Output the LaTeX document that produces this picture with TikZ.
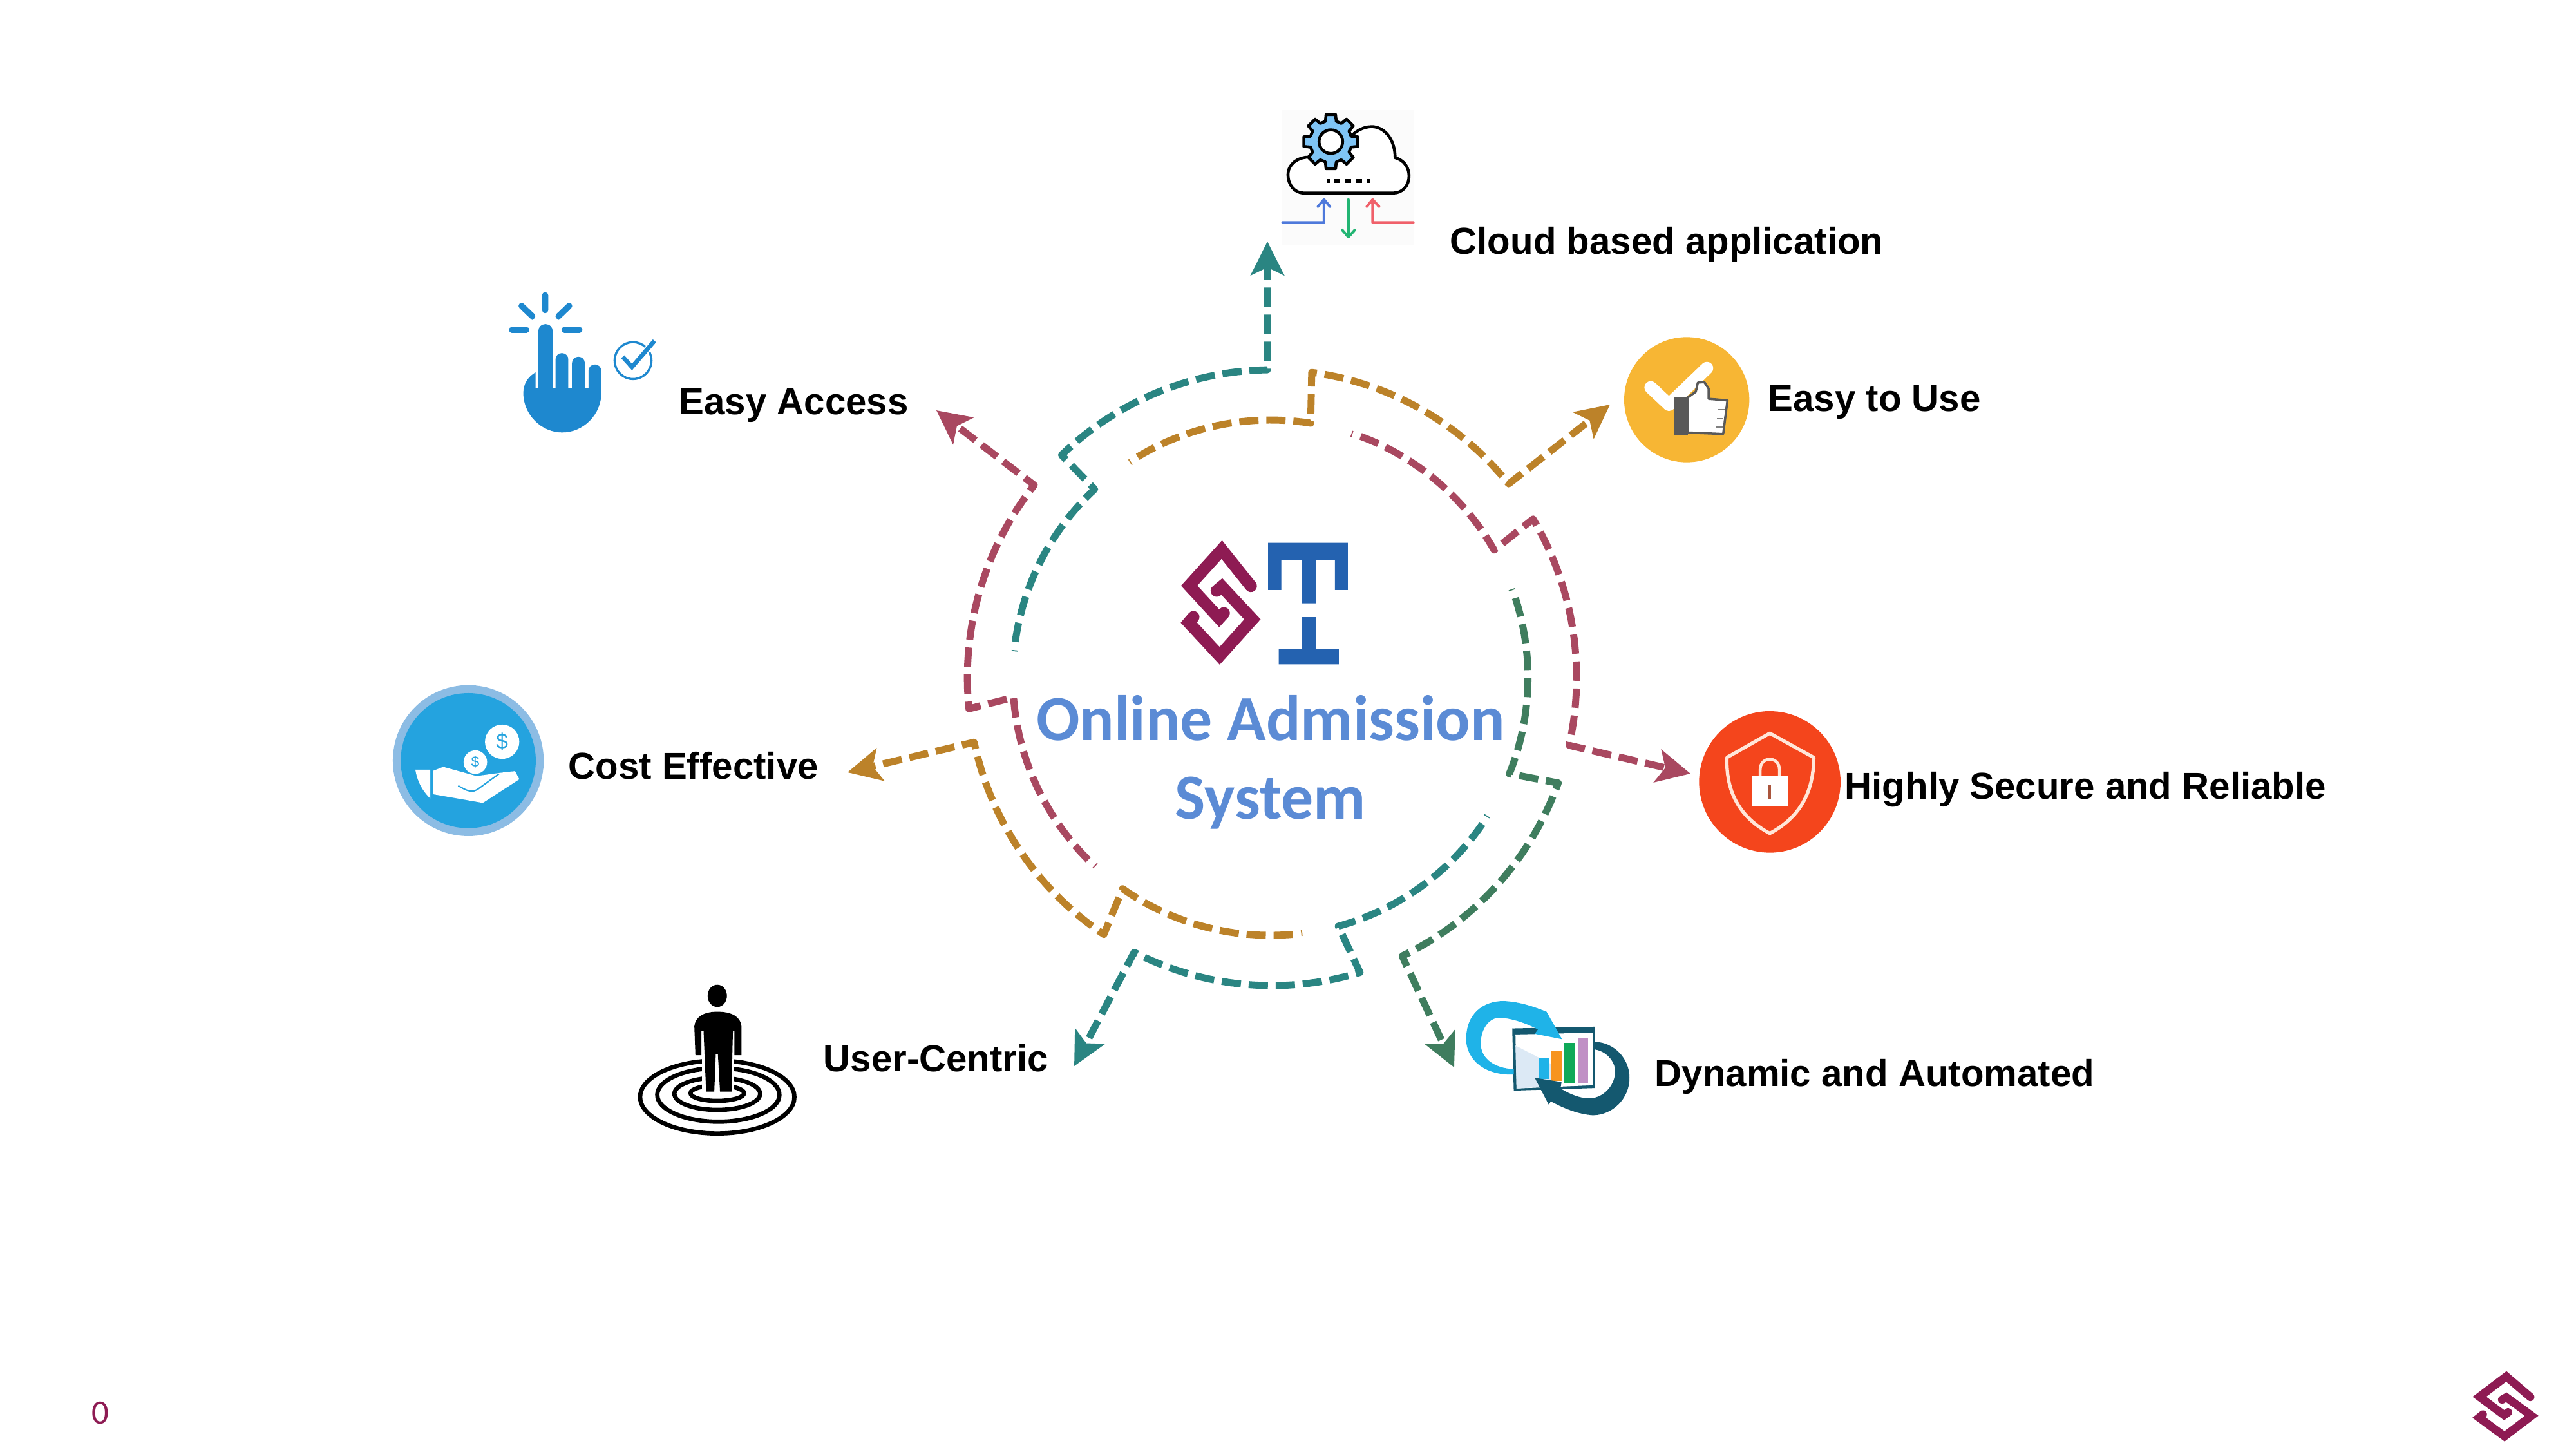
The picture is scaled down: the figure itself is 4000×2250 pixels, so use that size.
\documentclass[tikz,border=0pt]{standalone}
\usepackage{fontspec}
\setmainfont{Liberation Sans}
\newfontfamily\calibrifont{Carlito}
\usetikzlibrary{arrows.meta}
\definecolor{teal1}{HTML}{2A8582}
\definecolor{gold1}{HTML}{BC8229}
\definecolor{rose1}{HTML}{A94860}
\definecolor{green1}{HTML}{3F7D5E}
\definecolor{maroon1}{HTML}{8E1B53}
\definecolor{tblue}{HTML}{2462B0}
\definecolor{handblue}{HTML}{1E88CF}
\definecolor{darkteal}{HTML}{14586F}
\definecolor{cyan1}{HTML}{1FB3E8}
\definecolor{titleblue}{HTML}{5B8BD5}
\def\cx{1972.6}
\def\cy{1052}
\tikzset{
  zoomed/.style 2 args={shift={(#1,#2)},x=0.003333cm,y=-0.003333cm},
  flowline/.style={line width=3.1pt,dash pattern=on 8.5pt off 3.45pt,line join=round},
  label/.style={font=\bfseries\fontsize{16.55}{20}\selectfont,text=black,inner sep=0pt,anchor=west},
}
% colour, start angle, inner end, outer start, outer end, tip coordinate
\newcommand{\flowarrow}[6]{%
  \draw[#1,line width=0.5pt] ({\cx+394*cos(#2)},{\cy-394*sin(#2)}) -- ({\cx+404*cos(#2)},{\cy-404*sin(#2)});
  \draw[flowline,draw=#1,-{Stealth[length=14.8pt,width=14.6pt,inset=3.4pt,fill=#1]}]
    plot[domain=#2-2:#3,samples=40] ({\cx+400*cos(\x)},{\cy-400*sin(\x)})
    -- plot[domain=#4:#5,samples=40] ({\cx+2.5+473*cos(\x)},{\cy-478*sin(\x)})
    -- (#6);
}
% linked-S logo in the units of a 3x crop
\newcommand{\slogo}[1]{%
  \draw[maroon1,line width=#1,line join=miter,line cap=round]
    (488,270) -- (352,100) -- (200,268) -- (340,420) -- (362,396);
  \draw[maroon1,line width=#1,line join=miter,line cap=round]
    (328,292) -- (352,272) -- (495,425) -- (342,595) -- (198,440) -- (220,414);
}
\begin{document}
\begin{tikzpicture}[x=0.01cm,y=-0.01cm]
\fill[white] (0,0) rectangle (4000,2250);
\useasboundingbox (0,0) rectangle (4000,2250);

% arrow ends
\coordinate (tipCloud) at (1968,375);
\coordinate (tipUse) at (2500,628);
\coordinate (tipSecure) at (2625,1201);
\coordinate (tipDyn) at (2258,1657);
\coordinate (tipUser) at (1668,1655);
\coordinate (tipCost) at (1316,1199);
\coordinate (tipAccess) at (1454,637);

\flowarrow{teal1}{174}{133}{133.7}{90.85}{tipCloud}
\flowarrow{gold1}{123}{81}{82.5}{39}{tipUse}
\flowarrow{rose1}{71.5}{29.7}{31}{-12.7}{tipSecure}
\flowarrow{green1}{20}{-21.9}{-20}{-64.7}{tipDyn}
\flowarrow{teal1}{-32.6}{-74.7}{-73.2}{-116.9}{tipUser}
\flowarrow{gold1}{-83}{-125}{-123.5}{-167.9}{tipCost}
\flowarrow{rose1}{-133}{-175.6}{-174.2}{-218.7}{tipAccess}

% labels
\node[label] (lCloud) at (2251,379) {Cloud based application};
\node[label] (lUse) at (2745,624) {Easy to Use};
\node[label] (lSecure) at (2864,1226) {Highly Secure and Reliable};
\node[label] (lDyn) at (2569,1671) {Dynamic and Automated};
\node[label] (lUser) at (1278,1643) {User-Centric};
\node[label] (lCost) at (882,1189) {Cost Effective};
\node[label] (lAccess) at (1054,629) {Easy Access};

\node[font=\calibrifont\bfseries\fontsize{28.4}{34.6}\selectfont,text=titleblue,align=center,inner sep=0pt] (title) at (1973,1183) {Online Admission\\System};

\node[font=\calibrifont\fontsize{15}{17}\selectfont,text=maroon1,inner sep=0pt] (pagenum) at (156,2194) {0};

% centre logo
\begin{scope}[zoomed={1780}{820}]
  \slogo{5.3pt}
  \fill[tblue] (568,68) -- (940,68) -- (940,288) -- (880,288) -- (880,150) -- (790,150) -- (790,350) -- (725,350) -- (725,150) -- (630,150) -- (630,288) -- (568,288) -- cycle;
  \fill[tblue] (725,415) -- (790,415) -- (790,565) -- (898,565) -- (898,635) -- (618,635) -- (618,565) -- (725,565) -- cycle;
\end{scope}

% corner logo
\begin{scope}[shift={(3795,2118)},x=0.002739cm,y=-0.001878cm]
  \slogo{3.6pt}
\end{scope}

% cloud icon
\begin{scope}[zoomed={1950}{140}]
  \fill[black!1.5] (122,90) rectangle (740,720);
  \draw[black,line width=1.3pt,fill=white,line join=round]
    (225,480) .. controls (180,480) and (150,440) .. (150,395)
    .. controls (150,345) and (195,312) .. (250,312)
    -- (455,205) .. controls (490,175) and (520,170) .. (545,170)
    .. controls (610,175) and (650,240) .. (650,315)
    .. controls (690,325) and (715,360) .. (715,400)
    .. controls (715,445) and (685,480) .. (640,480) -- cycle;
  \begin{scope}[shift={(350,240)}]
    \draw[black,line width=1.3pt,fill={rgb,255:red,127;green,196;blue,245},line join=round]
      (100:128) \foreach \a in {90,45,0,-45,-90,-135,-180,-225}{ -- (\a+10:128) -- (\a-10:128) -- (\a-15:98) -- (\a-30:98) } -- cycle;
    \draw[black,line width=1.3pt,fill=white] (0,0) circle[radius=55];
  \end{scope}
  \foreach \a/\b in {330/345,365/393,415/445,468/497,518/533}{\fill[black] (\a,415) rectangle (\b,432);}
  \draw[line width=1.15pt,line join=round,line cap=round,draw={rgb,255:red,78;green,121;blue,219}]
    (125,617) -- (318,617) -- (318,515) (290,543) -- (318,510) -- (346,543);
  \draw[line width=1.15pt,line join=round,line cap=round,draw={rgb,255:red,34;green,181;blue,115}]
    (432,510) -- (432,682) (403,652) -- (432,685) -- (462,652);
  \draw[line width=1.15pt,line join=round,line cap=round,draw={rgb,255:red,240;green,96;blue,106}]
    (735,617) -- (545,617) -- (545,515) (518,543) -- (545,510) -- (575,543);
\end{scope}

% tap icon
\begin{scope}[zoomed={760}{430}]
  \draw[handblue,line width=2.7pt,line cap=round]
    (260,85) -- (260,155) (150,135) -- (200,183) (372,135) -- (322,183)
    (105,247) -- (172,247) (350,247) -- (420,247);
  \fill[handblue] (215,445) .. controls (180,465) and (158,500) .. (158,540)
    .. controls (158,640) and (240,725) .. (340,725)
    .. controls (440,725) and (522,640) .. (522,540) -- (522,520) -- (215,520) -- cycle;
  \fill[handblue,rounded corners=3pt] (228,220) rectangle (295,560);
  \fill[handblue,rounded corners=2.8pt] (308,355) rectangle (368,560);
  \fill[handblue,rounded corners=2.8pt] (385,372) rectangle (445,560);
  \fill[handblue,rounded corners=2.8pt] (462,408) rectangle (522,560);
  \draw[handblue,line width=0.95pt] (670,390) circle[radius=86];
  \draw[white,line width=2.9pt] (625,375) -- (665,420) -- (765,305);
  \draw[handblue,line width=1.9pt] (622,372) -- (665,420) -- (770,298);
\end{scope}

% thumbs-up icon
\begin{scope}[zoomed={2500}{500}]
  \fill[fill={rgb,255:red,247;green,182;blue,52}] (358,362) circle[radius=292];
  \draw[white,line width=5.6pt,line cap=round,line join=round] (190,305) -- (275,385) -- (452,215);
  \fill[black!65] (298,352) rectangle (362,530);
  \draw[black!65,line width=1pt,fill=white,line join=round]
    (362,352) -- (400,325) -- (410,282) -- (440,280) -- (460,310) -- (460,358) -- (548,365) -- (528,522) -- (362,515) -- cycle;
  \draw[black!50,line width=0.7pt] (505,408) -- (535,408) (500,450) -- (530,450) (495,490) -- (525,490);
\end{scope}

% shield icon
\begin{scope}[zoomed={2620}{1090}]
  \fill[fill={rgb,255:red,244;green,69;blue,28}] (385,372) circle[radius=330];
  \draw[line width=1.5pt,draw={rgb,255:red,255;green,230;blue,216},line join=round]
    (385,145) -- (590,258) .. controls (590,400) and (540,530) .. (385,612)
    .. controls (230,530) and (180,400) .. (185,258) -- cycle;
  \draw[line width=1.3pt,draw={rgb,255:red,255;green,230;blue,216}]
    (340,350) -- (340,315) .. controls (340,250) and (430,250) .. (430,315) -- (430,350);
  \fill[white] (300,345) rectangle (470,488);
  \draw[line width=1.3pt,draw={rgb,255:red,170;green,85;blue,60}] (385,388) -- (385,450);
\end{scope}

% dynamic icon
\begin{scope}[zoomed={2260}{1530}]
  \fill[darkteal] (265,200) -- (650,192) -- (650,478) -- (272,490) -- cycle;
  \fill[white] (280,228) -- (640,220) -- (640,465) -- (285,480) -- cycle;
  \fill[fill={rgb,255:red,220;green,233;blue,245}] (280,280) -- (445,365) -- (445,470) -- (285,480) -- cycle;
  \fill[cyan1] (390,337) rectangle (435,435);
  \fill[fill={rgb,255:red,247;green,148;blue,30}] (447,303) rectangle (495,445);
  \fill[fill={rgb,255:red,15;green,169;blue,88}] (507,268) rectangle (557,455);
  \fill[fill={rgb,255:red,192;green,144;blue,197}] (575,243) rectangle (618,455);
  \fill[cyan1] (272,415) .. controls (130,420) and (50,340) .. (50,250)
    .. controls (50,130) and (130,72) .. (225,72)
    .. controls (300,75) and (370,100) .. (425,122)
    -- (497,250) -- (370,225) -- (385,205)
    .. controls (320,170) and (250,150) .. (200,150)
    .. controls (150,155) and (118,210) .. (118,270)
    .. controls (118,340) and (180,385) .. (272,390) -- cycle;
  \fill[darkteal] (650,262) .. controls (740,265) and (812,340) .. (812,430)
    .. controls (812,530) and (730,605) .. (640,605)
    .. controls (570,600) and (500,570) .. (445,540)
    -- (435,555) -- (370,430) -- (495,450) -- (490,480)
    .. controls (540,510) and (590,530) .. (640,525)
    .. controls (700,515) and (745,460) .. (745,400)
    .. controls (745,350) and (700,305) .. (650,298) -- cycle;
\end{scope}

% person icon
\begin{scope}[zoomed={970}{1510}]
  \draw[black,line width=1.9pt] (432,580) ellipse[x radius=360,y radius=170];
  \draw[black,line width=1.9pt] (437,570) ellipse[x radius=285,y radius=125];
  \draw[black,line width=1.9pt] (432,565) ellipse[x radius=200,y radius=75];
  \draw[black,line width=1.9pt] (432,562) ellipse[x radius=125,y radius=36];
  \fill[white] (360,380) rectangle (510,560);
  \fill[black] (432,108) ellipse[x radius=45,y radius=52];
  \fill[black] (330,385) -- (325,250) .. controls (330,205) and (370,182) .. (432,182)
    .. controls (500,182) and (540,205) .. (545,250) -- (545,385) -- (512,385) -- (512,270) -- (505,270)
    -- (498,555) -- (445,555) -- (435,380) -- (425,380) -- (418,555) -- (380,555) -- (368,270) -- (358,270) -- (358,385) -- cycle;
\end{scope}

% cost icon
\begin{scope}[zoomed={590}{1050}]
  \fill[fill={rgb,255:red,140;green,188;blue,228}] (412,393) circle[radius=352];
  \fill[fill={rgb,255:red,36;green,163;blue,223}] (412,393) circle[radius=315];
  \fill[white] (570,305) circle[radius=80];
  \fill[white] (445,400) circle[radius=55];
  \node[font=\fontsize{9.5}{10}\selectfont,text={rgb,255:red,36;green,163;blue,223},inner sep=0pt] (coinA) at (570,305) {\$};
  \node[font=\fontsize{6.5}{7}\selectfont,text={rgb,255:red,36;green,163;blue,223},inner sep=0pt] (coinB) at (445,400) {\$};
  \fill[white] (165,435) -- (235,435) -- (235,570) .. controls (195,530) and (175,490) .. (165,435) -- cycle;
  \fill[white] (250,440) -- (295,422) -- (450,465) -- (560,450) -- (630,442) -- (650,480) -- (480,590) -- (250,550) -- cycle;
  \draw[line width=0.6pt,draw={rgb,255:red,36;green,163;blue,223}] (365,510) .. controls (400,530) and (430,550) .. (465,520) -- (555,455);
\end{scope}
\end{tikzpicture}
\end{document}
